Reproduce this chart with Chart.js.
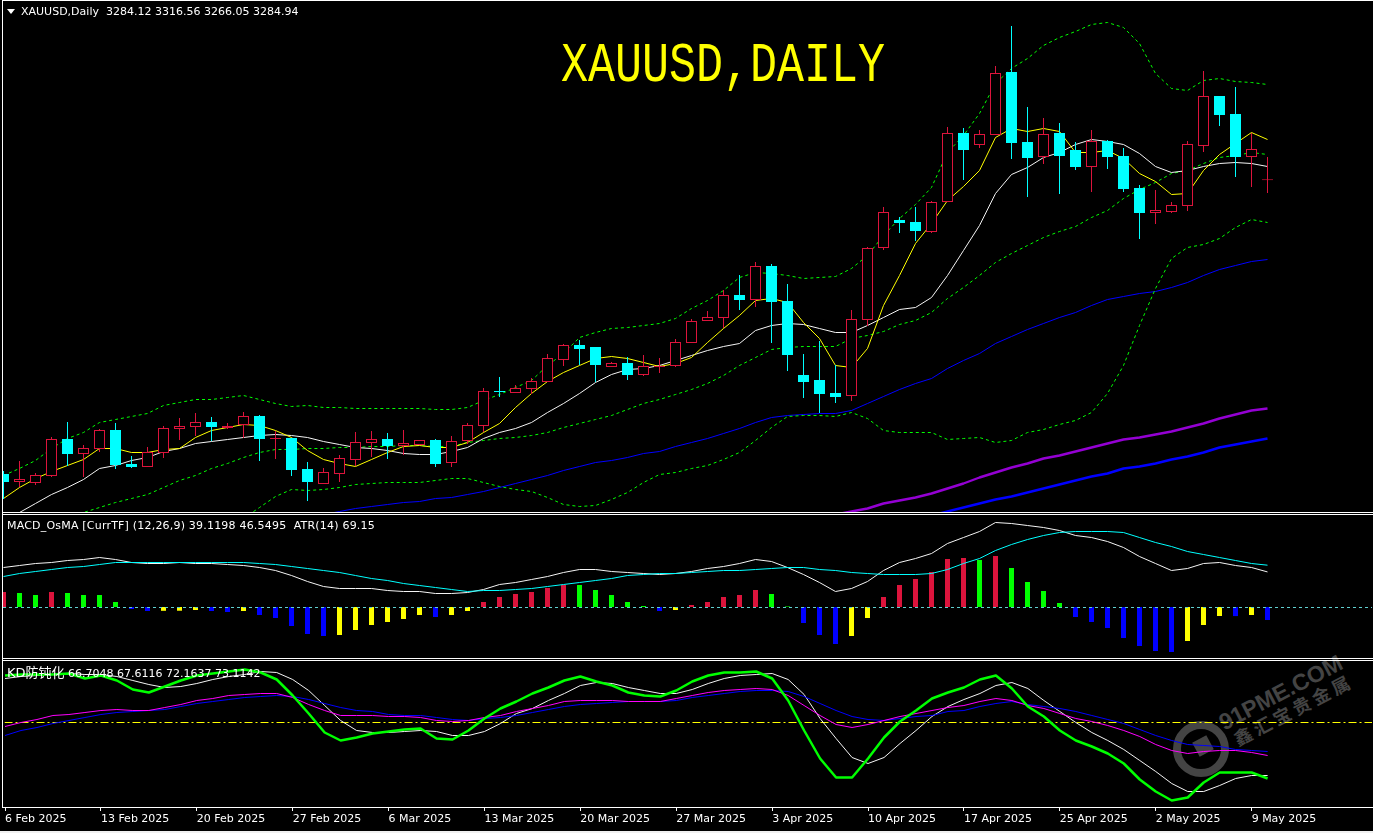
<!DOCTYPE html>
<html>
<head>
<meta charset="utf-8">
<title>XAUUSD, Daily</title>
<script src="https://cdn.jsdelivr.net/npm/chart.js@4"></script>
<style>
  html, body { margin: 0; padding: 0; background: #000; overflow: hidden; }
  #stage { position: relative; width: 1373px; height: 833px; overflow: hidden; background: #000; }
  canvas { position: absolute; display: block; }
  .rule { position: absolute; background: #fff; }
  .label { position: absolute; color: #fff; font: 11px "DejaVu Sans", sans-serif; white-space: pre; line-height: 13px; z-index: 5; }
  #title { position: absolute; left: 561px; top: 38px; color: #ff0; font: 45px "Liberation Mono", monospace; line-height: 60px; white-space: pre; transform: scaleY(1.22); transform-origin: 0 50%; z-index: 5; }
  #tri { position: absolute; left: 7px; top: 9px; width: 0; height: 0; border-left: 4px solid transparent; border-right: 4px solid transparent; border-top: 5px solid #fff; z-index: 5; }
  #wm { position: absolute; left: 1172px; top: 650px; width: 201px; height: 130px; color: #444; }
  #wm .ring { position: absolute; left: 1px; top: 71px; width: 40px; height: 40px; border: 8px solid #444; border-radius: 50%; }
  #wm .core { position: absolute; left: 23px; top: 88px; width: 16px; height: 16px; background: #444; transform: rotate(-28deg); }
  #wm .t1, #wm .t2 { position: absolute; white-space: pre; transform: rotate(-27.5deg); transform-origin: 0 100%; }
  #wm .t1 { left: 55px; top: 58px; font: bold 23px "Liberation Sans", sans-serif; line-height: 28px; }
  #wm .t2 { left: 68px; top: 76px; font: bold 18px "Noto Sans CJK SC", sans-serif; line-height: 24px; letter-spacing: 4px; }
</style>
</head>
<body>
<div id="stage">
  <div id="wm"><div class="ring"></div><div class="core"></div><div class="t1">91PME.COM</div><div class="t2">鑫汇宝贵金属</div></div>
  <div class="rule" style="left:2px;top:0;width:1px;height:808px"></div>
  <div class="rule" style="left:2px;top:0;width:1371px;height:1px"></div>
  <div class="rule" style="left:2px;top:512px;width:1371px;height:1px"></div>
  <div class="rule" style="left:2px;top:514px;width:1371px;height:1px"></div>
  <div class="rule" style="left:2px;top:658px;width:1371px;height:1px"></div>
  <div class="rule" style="left:2px;top:660px;width:1371px;height:1px"></div>
  <div class="rule" style="left:2px;top:807px;width:1371px;height:1px"></div>
  <div class="rule" style="left:0;top:831px;width:1373px;height:2px;background:#f0f0f0"></div>
  <canvas id="priceChart" width="1369" height="510" style="left:3px;top:2px"></canvas>
  <canvas id="macdChart" width="1369" height="143" style="left:3px;top:515px"></canvas>
  <canvas id="kdChart" width="1369" height="172" style="left:3px;top:661px"></canvas>
  <div id="tri"></div>
  <div class="label" style="left:21px;top:5px">XAUUSD,Daily  3284.12 3316.56 3266.05 3284.94</div>
  <div class="label" style="left:7px;top:519px;letter-spacing:.2px">MACD_OsMA [CurrTF] (12,26,9) 39.1198 46.5495  ATR(14) 69.15</div>
  <div class="label" style="left:7px;top:666px;font-family:'DejaVu Sans','Noto Sans CJK SC',sans-serif"><span style="font-size:13px">KD防钝化</span> 66.7048 67.6116 72.1637 73.1142</div>
  <div id="title">XAUUSD,DAILY</div>
</div>
<script>
const tickIndexes = [0, 6, 12, 18, 24, 30, 36, 42, 48, 54, 60, 66, 72, 78];
const tickLabels = ["6 Feb 2025", "13 Feb 2025", "20 Feb 2025", "27 Feb 2025", "6 Mar 2025", "13 Mar 2025", "20 Mar 2025", "27 Mar 2025", "3 Apr 2025", "10 Apr 2025", "17 Apr 2025", "25 Apr 2025", "2 May 2025", "9 May 2025"];

const opens = [2872.8, 2861.6, 2860.2, 2870.0, 2921.8, 2900.8, 2907.8, 2934.4, 2886.8, 2882.6, 2902.2, 2935.8, 2938.6, 2945.6, 2937.2, 2941.4, 2954.0, 2921.8, 2923.2, 2879.8,
  2858.8, 2872.8, 2892.4, 2916.2, 2921.8, 2912.0, 2913.4, 2920.4, 2888.2, 2919.0, 2940.0, 2989.0, 2986.2, 2991.8, 3001.6, 3032.4, 3053.4, 3050.6, 3022.6, 3028.2,
  3011.4, 3022.6, 3024.0, 3056.2, 3087.0, 3091.2, 3123.4, 3116.4, 3164.0, 3115.0, 3011.4, 3004.4, 2986.2, 2982.0, 3088.4, 3189.2, 3228.4, 3225.6, 3211.6, 3253.6,
  3350.2, 3333.4, 3347.4, 3435.6, 3337.6, 3316.6, 3350.2, 3326.4, 3302.6, 3339.0, 3318.0, 3273.2, 3238.2, 3239.6, 3248.0, 3332.0, 3402.0, 3376.8, 3316.6, 3284.12];
const highs = [2877.0, 2891.0, 2874.2, 2924.6, 2945.6, 2913.4, 2935.8, 2944.2, 2898.0, 2910.6, 2940.0, 2951.2, 2958.2, 2952.6, 2944.2, 2959.6, 2955.4, 2933.0, 2923.2, 2889.6,
  2881.2, 2899.4, 2931.6, 2933.0, 2930.2, 2934.4, 2920.4, 2921.8, 2926.0, 2944.2, 2993.2, 3008.6, 2997.4, 3007.2, 3040.8, 3054.8, 3060.4, 3050.6, 3029.6, 3036.6,
  3039.4, 3035.2, 3061.8, 3089.8, 3101.0, 3130.4, 3151.4, 3169.6, 3166.8, 3138.8, 3040.8, 3059.0, 3025.4, 3102.4, 3190.6, 3246.6, 3232.6, 3246.6, 3255.0, 3358.6,
  3357.2, 3354.4, 3444.0, 3500.0, 3386.6, 3371.2, 3364.2, 3337.6, 3354.4, 3340.4, 3329.2, 3277.4, 3270.4, 3253.6, 3339.0, 3437.0, 3402.0, 3414.6, 3350.2, 3316.56];
const lows = [2837.8, 2854.6, 2857.4, 2868.6, 2884.0, 2868.6, 2903.6, 2879.8, 2881.2, 2882.6, 2895.2, 2920.4, 2926.0, 2919.0, 2935.8, 2923.2, 2891.0, 2893.8, 2870.0, 2835.0,
  2858.8, 2861.6, 2884.0, 2896.6, 2893.8, 2899.4, 2913.4, 2882.6, 2882.6, 2914.8, 2931.6, 2980.6, 2986.2, 2984.8, 3001.6, 3024.0, 3025.4, 3001.6, 3022.6, 3004.4,
  3010.0, 3014.2, 3022.6, 3056.2, 3087.0, 3077.2, 3102.4, 3106.6, 3056.2, 3017.0, 2979.2, 2958.2, 2972.2, 2975.0, 3080.0, 3186.4, 3210.2, 3199.0, 3210.2, 3253.6,
  3284.4, 3329.2, 3347.4, 3313.8, 3260.6, 3306.8, 3264.8, 3298.4, 3267.6, 3299.8, 3267.6, 3201.8, 3222.8, 3238.2, 3241.0, 3323.6, 3360.0, 3288.6, 3274.6, 3266.05];
const closes = [2861.6, 2865.8, 2871.4, 2921.8, 2900.8, 2909.2, 2934.4, 2885.4, 2882.6, 2903.6, 2937.2, 2940.0, 2945.6, 2938.6, 2940.0, 2954.0, 2921.8, 2923.2, 2878.4, 2861.6,
  2875.6, 2895.2, 2917.6, 2921.8, 2912.0, 2916.2, 2920.4, 2886.8, 2919.0, 2941.4, 2989.0, 2987.6, 2993.2, 3003.0, 3035.2, 3053.4, 3047.8, 3025.4, 3028.2, 3011.4,
  3024.0, 3024.0, 3057.6, 3087.0, 3092.6, 3123.4, 3116.4, 3164.0, 3113.6, 3039.4, 3001.6, 2984.8, 2980.6, 3089.8, 3189.2, 3239.6, 3224.2, 3213.0, 3253.6, 3350.2,
  3326.4, 3348.8, 3434.2, 3336.2, 3315.2, 3348.8, 3318.0, 3302.6, 3339.0, 3316.6, 3271.8, 3238.2, 3242.4, 3249.4, 3334.8, 3402.0, 3375.4, 3316.6, 3327.8, 3284.94];

const maFast = [2839.2, 2854.6, 2867.0, 2877.0, 2885.4, 2893.8, 2909.2, 2909.2, 2903.6, 2903.6, 2907.8, 2909.2, 2924.6, 2934.4, 2938.6, 2942.8, 2941.4, 2934.4, 2924.6, 2906.4,
  2893.8, 2888.2, 2884.0, 2893.8, 2903.6, 2912.0, 2913.4, 2910.6, 2910.6, 2917.6, 2931.6, 2944.2, 2966.6, 2986.2, 3003.0, 3015.6, 3025.4, 3035.2, 3038.0, 3035.2,
  3029.6, 3024.0, 3028.2, 3036.6, 3057.6, 3077.2, 3095.4, 3116.4, 3119.2, 3113.6, 3085.6, 3063.2, 3025.4, 3022.6, 3049.2, 3109.4, 3151.4, 3196.2, 3224.2, 3256.4,
  3276.0, 3298.4, 3344.6, 3357.2, 3353.0, 3357.2, 3353.0, 3323.6, 3323.6, 3326.4, 3315.2, 3294.2, 3283.0, 3264.8, 3266.2, 3298.4, 3320.8, 3336.2, 3351.6, 3341.8];
const maSlow = [2814.0, 2819.6, 2832.2, 2844.8, 2854.6, 2865.8, 2881.2, 2885.4, 2892.4, 2896.6, 2905.0, 2909.2, 2916.2, 2919.0, 2921.8, 2924.6, 2927.4, 2928.8, 2927.4, 2924.6,
  2919.0, 2914.8, 2910.6, 2909.2, 2906.4, 2902.2, 2900.8, 2900.8, 2905.0, 2910.6, 2923.2, 2931.6, 2937.2, 2945.6, 2959.6, 2972.2, 2986.2, 3001.6, 3012.8, 3019.8,
  3021.2, 3025.4, 3032.4, 3039.4, 3046.4, 3052.0, 3056.2, 3074.4, 3081.4, 3084.2, 3082.8, 3077.2, 3071.6, 3071.6, 3081.4, 3092.6, 3103.8, 3106.6, 3120.6, 3151.4,
  3186.4, 3221.4, 3266.2, 3292.8, 3302.6, 3316.6, 3323.6, 3334.8, 3341.8, 3339.0, 3334.8, 3322.2, 3304.0, 3295.6, 3298.4, 3304.0, 3308.2, 3309.6, 3308.2, 3304.0];
const bandUpper = [2871.4, 2881.2, 2892.4, 2909.2, 2923.2, 2931.6, 2945.6, 2949.8, 2954.0, 2958.2, 2969.4, 2973.6, 2977.8, 2977.8, 2980.6, 2983.4, 2977.8, 2972.2, 2968.0, 2969.4,
  2966.6, 2966.6, 2965.2, 2965.2, 2965.2, 2965.2, 2965.2, 2963.8, 2963.8, 2966.6, 2976.4, 2984.8, 2994.6, 3004.4, 3025.4, 3042.2, 3064.6, 3071.6, 3077.2, 3078.6,
  3081.4, 3084.2, 3091.2, 3105.2, 3116.4, 3130.4, 3148.6, 3155.6, 3154.2, 3151.4, 3147.2, 3148.6, 3150.0, 3161.2, 3179.4, 3207.4, 3231.2, 3250.8, 3274.6, 3323.6,
  3347.4, 3378.2, 3420.2, 3441.2, 3455.2, 3473.4, 3484.6, 3493.0, 3502.8, 3505.6, 3498.6, 3476.2, 3434.2, 3413.2, 3410.4, 3424.4, 3427.2, 3423.0, 3421.6, 3418.8];
const bandMiddle = [null, null, null, null, 2814.0, 2819.6, 2826.6, 2833.6, 2839.2, 2844.8, 2854.6, 2864.4, 2871.4, 2881.2, 2888.2, 2896.6, 2903.6, 2907.8, 2907.8, 2909.2,
  2909.2, 2910.6, 2910.6, 2912.0, 2912.0, 2913.4, 2913.4, 2912.0, 2912.0, 2917.6, 2920.4, 2923.2, 2924.6, 2927.4, 2931.6, 2938.6, 2944.2, 2949.8, 2955.4, 2963.8,
  2972.2, 2977.8, 2984.8, 2991.8, 3000.2, 3011.4, 3025.4, 3036.6, 3047.8, 3050.6, 3052.0, 3052.0, 3052.0, 3063.2, 3067.4, 3073.0, 3082.8, 3088.4, 3099.6, 3119.2,
  3134.6, 3151.4, 3169.6, 3182.2, 3193.4, 3204.6, 3213.0, 3220.0, 3232.6, 3242.4, 3259.2, 3271.8, 3281.6, 3294.2, 3298.4, 3308.2, 3316.6, 3319.4, 3323.6, 3320.8];
const bandLower = [null, null, null, null, null, null, null, null, null, null, null, null, null, null, null, 2811.2, 2826.6, 2842.0, 2851.8, 2850.4,
  2851.8, 2854.6, 2858.8, 2860.2, 2861.6, 2861.6, 2861.6, 2864.4, 2867.2, 2867.2, 2861.6, 2856.0, 2851.8, 2849.0, 2840.6, 2830.8, 2828.0, 2829.4, 2837.8, 2847.6,
  2861.6, 2872.8, 2875.6, 2881.2, 2885.4, 2893.8, 2903.6, 2920.4, 2938.6, 2954.0, 2955.4, 2955.4, 2954.0, 2959.6, 2951.2, 2934.4, 2931.6, 2931.6, 2931.6, 2921.8,
  2923.2, 2924.6, 2917.6, 2920.4, 2931.6, 2935.8, 2942.8, 2948.4, 2959.6, 2986.2, 3025.4, 3081.4, 3133.2, 3175.2, 3190.6, 3194.8, 3203.2, 3218.6, 3229.8, 3225.6];
const maBlue = [null, null, null, null, null, null, null, null, null, null, null, null, null, null, null, null, null, null, null, null,
  2816.8, 2821.0, 2825.2, 2828.0, 2830.8, 2833.6, 2835.0, 2839.2, 2840.6, 2844.8, 2849.0, 2854.6, 2860.2, 2865.8, 2871.4, 2878.4, 2884.0, 2889.6, 2892.4, 2896.6,
  2902.2, 2905.0, 2912.0, 2917.6, 2923.2, 2930.2, 2937.2, 2945.6, 2952.6, 2955.4, 2956.8, 2958.2, 2958.2, 2962.4, 2972.2, 2982.0, 2991.8, 3000.2, 3007.2, 3021.2,
  3032.4, 3042.2, 3056.2, 3066.0, 3075.8, 3084.2, 3092.6, 3099.6, 3109.4, 3117.8, 3122.0, 3126.2, 3129.0, 3134.6, 3141.6, 3151.4, 3159.8, 3165.4, 3171.0, 3173.8];
const maPurple = [null, null, null, null, null, null, null, null, null, null, null, null, null, null, null, null, null, null, null, null,
  null, null, null, null, null, null, null, null, null, null, null, null, null, null, null, null, null, null, null, null,
  null, null, null, null, null, null, null, null, null, null, null, null, 2816.8, 2821.0, 2825.2, 2832.2, 2836.4, 2840.6, 2846.2, 2853.2,
  2860.2, 2868.6, 2875.6, 2882.6, 2888.2, 2895.2, 2899.4, 2905.0, 2910.6, 2916.2, 2921.8, 2924.6, 2928.8, 2933.0, 2938.6, 2944.2, 2951.2, 2956.8, 2962.4, 2965.2];
const maLong = [null, null, null, null, null, null, null, null, null, null, null, null, null, null, null, null, null, null, null, null,
  null, null, null, null, null, null, null, null, null, null, null, null, null, null, null, null, null, null, null, null,
  null, null, null, null, null, null, null, null, null, null, null, null, null, null, null, null, null, null, 2815.4, 2821.0,
  2826.6, 2832.2, 2837.8, 2842.0, 2847.6, 2853.2, 2858.8, 2864.4, 2870.0, 2874.2, 2881.2, 2884.0, 2888.2, 2893.8, 2898.0, 2903.6, 2910.6, 2914.8, 2919.0, 2923.2];

const osma = [16.5, 15.4, 13.2, 16.5, 15.4, 13.2, 13.2, 5.5, -2.2, -4.4, -4.2, -4.1, -3.3, -4.4, -5.5, -4.4, -8.8, -12.1, -20.9, -29.7,
  -31.9, -30.8, -25.3, -19.8, -16.5, -13.2, -8.8, -11.0, -8.8, -4.4, 5.5, 11.0, 14.3, 16.5, 20.9, 24.2, 24.2, 18.7, 13.2, 5.5,
  1.1, -4.4, -3.3, 2.2, 5.5, 11.0, 13.2, 18.7, 14.3, 0.6, -17.6, -30.8, -40.7, -31.9, -12.1, 11.0, 24.2, 30.8, 38.5, 52.8,
  53.9, 51.7, 56.1, 42.9, 27.5, 17.6, 4.4, -11.0, -16.5, -23.1, -34.1, -42.9, -48.4, -49.5, -37.4, -19.8, -9.9, -10.0, -8.8, -14.3];
const macdLine = [44.0, 46.2, 48.4, 49.5, 51.7, 52.8, 55.0, 52.8, 49.5, 48.4, 48.4, 49.5, 48.4, 48.4, 47.3, 46.2, 44.0, 40.7, 35.2, 28.6,
  23.1, 20.9, 20.9, 20.9, 18.7, 17.6, 17.6, 15.4, 15.4, 16.5, 19.8, 25.3, 27.5, 30.8, 34.1, 38.5, 41.8, 41.8, 39.6, 38.5,
  37.4, 36.3, 37.4, 39.6, 42.9, 45.1, 48.4, 52.8, 50.6, 44.0, 36.3, 27.5, 17.6, 20.9, 28.6, 40.7, 49.5, 53.9, 59.4, 70.4,
  77.0, 83.6, 93.5, 92.4, 90.2, 88.0, 84.7, 79.2, 77.0, 72.6, 66.0, 56.1, 48.4, 40.7, 42.9, 48.4, 49.5, 46.2, 44.0, 39.12];
const macdSignal = [34.1, 37.4, 39.6, 41.8, 44.0, 45.1, 47.3, 49.5, 49.5, 49.5, 49.5, 49.5, 49.5, 49.5, 49.5, 49.5, 48.4, 47.3, 45.1, 42.9,
  40.7, 38.5, 35.2, 31.9, 29.7, 26.4, 24.2, 22.0, 19.8, 17.6, 18.7, 18.7, 19.8, 20.9, 23.1, 25.3, 27.5, 29.7, 31.9, 35.2,
  36.3, 37.4, 37.4, 38.5, 39.6, 40.7, 40.7, 41.8, 42.9, 44.0, 44.0, 41.8, 40.7, 38.5, 37.4, 36.3, 36.3, 36.3, 37.4, 41.8,
  48.4, 53.9, 62.7, 69.3, 74.8, 79.2, 82.5, 83.6, 83.6, 83.6, 82.5, 77.0, 71.5, 67.1, 61.6, 58.3, 55.0, 51.7, 48.4, 46.55];

const kdGreen = [73.5, 74, 74, 74, 74.5, 72, 73.5, 71, 66.5, 65, 68, 71, 73.5, 74.5, 75.5, 76.5, 75, 71.5, 63.5, 54.5,
  45, 41, 42.5, 44.5, 45.5, 46.5, 47, 42, 41.5, 46, 52, 57, 60.5, 64.5, 67.5, 71, 73, 70.5, 68.5, 65,
  63.5, 63, 66, 70.5, 73.5, 75, 75, 75.5, 72, 61, 46, 32, 22.5, 22.5, 32, 42.5, 50.5, 56, 62, 65,
  67.5, 71.5, 73.5, 67, 58, 53, 46, 41, 38, 34.5, 29.5, 21.5, 15.5, 11, 12.5, 20, 25, 25, 25, 22];
const kdWhite = [72, 73, 73.5, 74, 74.5, 74, 74, 73, 71, 69, 67.5, 68, 69.5, 71.5, 73, 74, 75.5, 75, 71.5, 66,
  58.5, 51, 46, 45, 45, 45.5, 46, 45.5, 43.5, 43.5, 45.5, 49.5, 54.5, 57, 61, 64.5, 68.5, 70, 69.5, 67.5,
  66, 64.5, 64.5, 66.5, 69.5, 72, 73.5, 74, 74.5, 71.5, 64, 52, 42, 32.5, 29.5, 32.5, 39.5, 46, 53, 58,
  61.5, 64.5, 68.5, 70, 67, 61, 55.5, 50, 45, 41, 36.5, 31, 25.5, 19.5, 15.5, 15.5, 18.5, 22, 23.5, 23.5];
const kdMagenta = [48, 50, 51.5, 53.5, 54, 55, 56, 56.5, 56, 56, 57.5, 59, 61, 62, 63.5, 64, 64.5, 64.5, 62.5, 59,
  56, 53.5, 53.5, 53.5, 53, 53, 52.5, 51, 50.5, 51, 52.5, 53.5, 55.5, 57, 58.5, 60.5, 61, 61, 61, 60.5,
  60.5, 60.5, 62, 63.5, 65, 66, 66.5, 67, 66.5, 63.5, 58.5, 53.5, 49, 47.5, 49, 51, 53, 54.5, 56, 57.5,
  58.5, 60.5, 62, 61, 58.5, 57, 54.5, 52, 50.5, 48.5, 46, 43, 39, 36, 34.5, 35.5, 36, 36, 35, 33.5];
const kdBlue = [43.5, 46, 47.5, 49.5, 51, 52.5, 54, 55, 55.5, 56, 56.5, 58, 59.5, 60.5, 61.5, 62.5, 63, 63.5, 63, 61.5,
  59.5, 57.5, 56, 55.5, 54, 53.5, 53.5, 52.5, 51.5, 51, 52, 52.5, 53.5, 55, 56.5, 58, 59, 59.5, 60, 60.5,
  60.5, 60.5, 61, 62.5, 63.5, 64.5, 65.5, 66, 66, 65.5, 63, 59.5, 56, 53, 51.5, 51, 52, 53, 53.5, 55.5,
  56, 58, 59.5, 60.5, 59, 58, 57, 55.5, 53.5, 51.5, 49.5, 46.5, 43.5, 41, 39, 38.5, 38, 36.5, 36, 35.5];

const macdZero = 0;
const kdLevel = 50;

const RED = "#DC143C";
const CYAN = "#00FFFF";
const GREEN = "#00FF00";
const BLUE = "#0000FF";
const YELLOW = "#FFFF00";
const WHITE = "#F4F4F4";

// x is the bar number, one bar is 16px, bar 0 sits half a pixel into the plot
const X_MIN = -0.03125;
const X_MAX = 85.53125;

const points = (values) => values.map((y, x) => ({ x, y }));

const line = (values, color, width = 1, dash = []) => ({
  type: "line",
  yAxisID: "yLine",
  data: points(values),
  borderColor: color,
  borderWidth: width,
  borderDash: dash,
  pointRadius: 0,
  tension: 0,
  borderJoinStyle: "round",
});

const level = (value, color, dash) => ({
  type: "line",
  yAxisID: "yLine",
  data: [{ x: X_MIN, y: value }, { x: X_MAX, y: value }],
  borderColor: color,
  borderWidth: 1,
  borderDash: dash,
  pointRadius: 0,
});

const bars = (data, fill, stroke, thickness, border = 0) => ({
  type: "bar",
  data,
  backgroundColor: fill,
  borderColor: stroke,
  borderWidth: border,
  borderSkipped: false,
  barThickness: thickness,
  minBarLength: border ? 1 : 0,
  grouped: false,
  inflateAmount: 0,
});

// yLine is y moved half a pixel: thin lines land on pixel rows, bar edges between them
function baseOptions(yMin, yMax, halfPixel, xDisplay) {
  return {
    responsive: false,
    animation: false,
    devicePixelRatio: 1,
    events: [],
    layout: { padding: 0, autoPadding: false },
    plugins: { legend: { display: false }, tooltip: { enabled: false } },
    scales: {
      x: { type: "linear", min: X_MIN, max: X_MAX, display: xDisplay, offset: false },
      y: { type: "linear", min: yMin, max: yMax, display: false },
      yLine: { type: "linear", min: yMin + halfPixel, max: yMax + halfPixel, display: false },
    },
  };
}

// datasets paint last-to-first, so candles come first to cover the lines
function initPriceChart() {
  const up = closes.map((c, i) => c >= opens[i]);
  new Chart(document.getElementById("priceChart"), {
    data: {
      datasets: [
        bars(opens.map((o, i) => ({ x: i, y: [o, closes[i]] })), up.map((u) => (u ? "#000" : CYAN)), up.map((u) => (u ? RED : CYAN)), 11, 1),
        bars(lows.map((l, i) => ({ x: i, y: [l, highs[i]] })), up.map((u) => (u ? RED : CYAN)), "transparent", 1),
        line(maFast, YELLOW),
        line(maSlow, WHITE),
        line(bandUpper, GREEN, 1, [3, 3]),
        line(bandMiddle, GREEN, 1, [3, 3]),
        line(bandLower, GREEN, 1, [3, 3]),
        line(maBlue, BLUE),
        line(maPurple, "#9400D3", 2.4),
        line(maLong, BLUE, 2.4),
      ],
    },
    options: baseOptions(2819.6, 3533.6, 0.7, false),
  });
}

function initMacdChart() {
  const colors = osma.map((v, i) => {
    const prev = i ? osma[i - 1] : -Infinity;
    if (v >= 0) return v > prev ? RED : GREEN;
    return v < prev ? BLUE : YELLOW;
  });
  new Chart(document.getElementById("macdChart"), {
    data: {
      datasets: [
        level(macdZero, "#5FCFCF", [3, 3]),
        line(macdSignal, CYAN),
        line(macdLine, WHITE),
        bars(points(osma), colors, "transparent", 5),
      ],
    },
    options: baseOptions(-56.1, 101.2, 0.55, false),
  });
}

function initKdChart() {
  const options = baseOptions(7.5, 80.5, 0.25, true);
  options.scales.x.border = { display: false };
  options.scales.x.grid = { drawOnChartArea: false, drawTicks: true, tickLength: 4, color: "#fff", tickWidth: 1 };
  options.scales.x.ticks = {
    color: "#fff",
    font: { family: "'DejaVu Sans', sans-serif", size: 11 },
    align: "start",
    autoSkip: false,
    maxRotation: 0,
    padding: 2,
    callback: (value) => tickLabels[tickIndexes.indexOf(value)],
  };
  options.scales.x.afterBuildTicks = (scale) => {
    scale.ticks = tickIndexes.map((value) => ({ value }));
  };
  options.scales.x.afterFit = (scale) => {
    scale.height = 26;
  };
  new Chart(document.getElementById("kdChart"), {
    data: {
      datasets: [
        line(kdGreen, GREEN, 2.5),
        line(kdMagenta, "#FF00FF"),
        line(kdBlue, BLUE),
        line(kdWhite, WHITE),
        level(kdLevel, YELLOW, [8, 3, 2, 3]),
      ],
    },
    options,
  });
}

initPriceChart();
initMacdChart();
initKdChart();
</script>
</body>
</html>
